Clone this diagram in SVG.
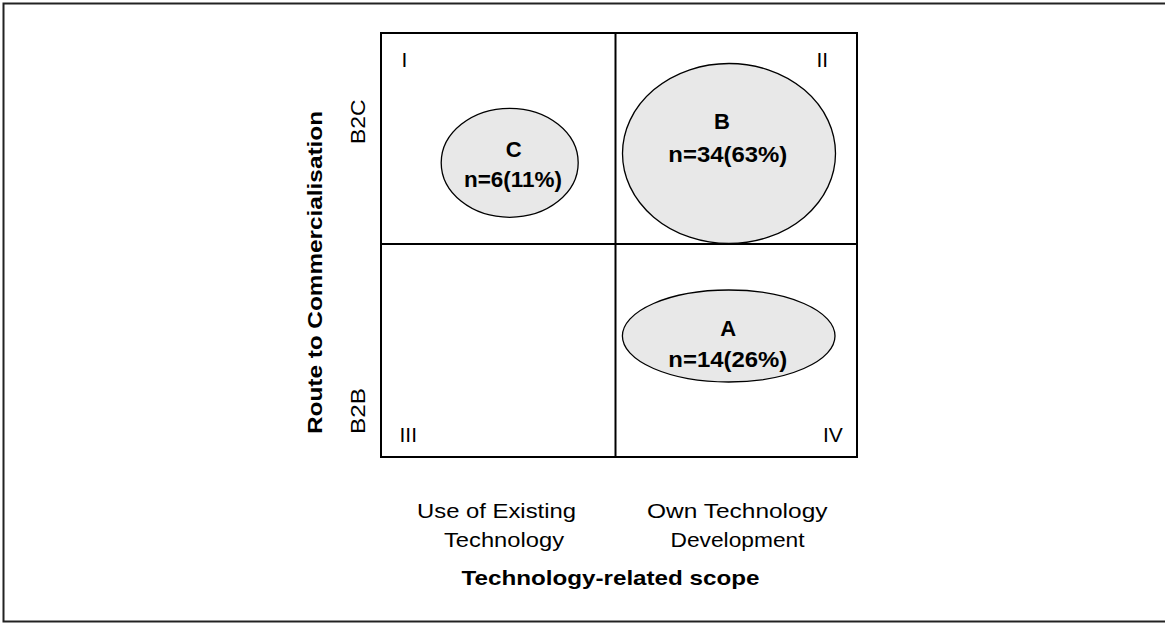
<svg xmlns="http://www.w3.org/2000/svg" width="1165" height="624" viewBox="0 0 1165 624">
  <style>
    .frame { fill: none; stroke: #222222; stroke-width: 2; }
    .grid { fill: none; stroke: #000000; stroke-width: 2; }
    .bubble { fill: #e8e8e8; stroke: #000000; stroke-width: 1.3; }
    .lbl { font-family: "Liberation Sans", Arial, sans-serif; font-size: 21px; fill: #000000; }
    .big { font-size: 22px; }
    .bold { font-weight: bold; }
    .mid { text-anchor: middle; }
  </style>

  <!-- page background and outer frame (right edge runs off the sheet) -->
  <rect x="0" y="0" width="1165" height="624" fill="#ffffff"/>
  <rect class="frame" x="3.5" y="3.5" width="1180" height="618"/>

  <!-- 2x2 matrix -->
  <g id="matrix">
    <rect class="grid" x="381" y="33" width="476" height="424"/>
    <line class="grid" x1="615.5" y1="33" x2="615.5" y2="457"/>
    <line class="grid" x1="381" y1="244" x2="857" y2="244"/>
  </g>

  <!-- quadrant numbers -->
  <g id="quadrant-labels" class="lbl">
    <text x="401.5" y="66.5">I</text>
    <text x="816.5" y="66.5">II</text>
    <text x="399.5" y="441.5">III</text>
    <text x="823" y="441.5">IV</text>
  </g>

  <!-- cluster C -->
  <g id="cluster-c">
    <ellipse class="bubble" cx="509.7" cy="162.8" rx="68.5" ry="54.5"/>
    <text class="lbl big bold mid" x="513.7" y="157.3">C</text>
    <text class="lbl big bold" x="464" y="186.5" textLength="98" lengthAdjust="spacingAndGlyphs">n=6(11%)</text>
  </g>

  <!-- cluster B -->
  <g id="cluster-b">
    <ellipse class="bubble" cx="729" cy="153.5" rx="106.5" ry="90"/>
    <text class="lbl big bold mid" x="722" y="129.3">B</text>
    <text class="lbl big bold" x="668.3" y="161.7" textLength="119" lengthAdjust="spacingAndGlyphs">n=34(63%)</text>
  </g>

  <!-- cluster A -->
  <g id="cluster-a">
    <ellipse class="bubble" cx="728.7" cy="336" rx="106.3" ry="46"/>
    <text class="lbl big bold mid" x="728.3" y="335.7">A</text>
    <text class="lbl big bold" x="668.3" y="366.7" textLength="119" lengthAdjust="spacingAndGlyphs">n=14(26%)</text>
  </g>

  <!-- vertical axis -->
  <g id="y-axis" class="lbl">
    <text class="bold" transform="translate(321.5,434) rotate(-90)" textLength="323" lengthAdjust="spacingAndGlyphs">Route to Commercialisation</text>
    <text transform="translate(365,144) rotate(-90)" textLength="44.5" lengthAdjust="spacingAndGlyphs">B2C</text>
    <text transform="translate(365,434) rotate(-90)" textLength="46" lengthAdjust="spacingAndGlyphs">B2B</text>
  </g>

  <!-- horizontal axis -->
  <g id="x-axis" class="lbl">
    <text x="417" y="517.7" textLength="159" lengthAdjust="spacingAndGlyphs">Use of Existing</text>
    <text x="444" y="546.7" textLength="120" lengthAdjust="spacingAndGlyphs">Technology</text>
    <text x="647" y="517.7" textLength="180.5" lengthAdjust="spacingAndGlyphs">Own Technology</text>
    <text x="670.5" y="546.7" textLength="134" lengthAdjust="spacingAndGlyphs">Development</text>
    <text class="bold" x="461.5" y="585" textLength="298" lengthAdjust="spacingAndGlyphs">Technology-related scope</text>
  </g>
</svg>
